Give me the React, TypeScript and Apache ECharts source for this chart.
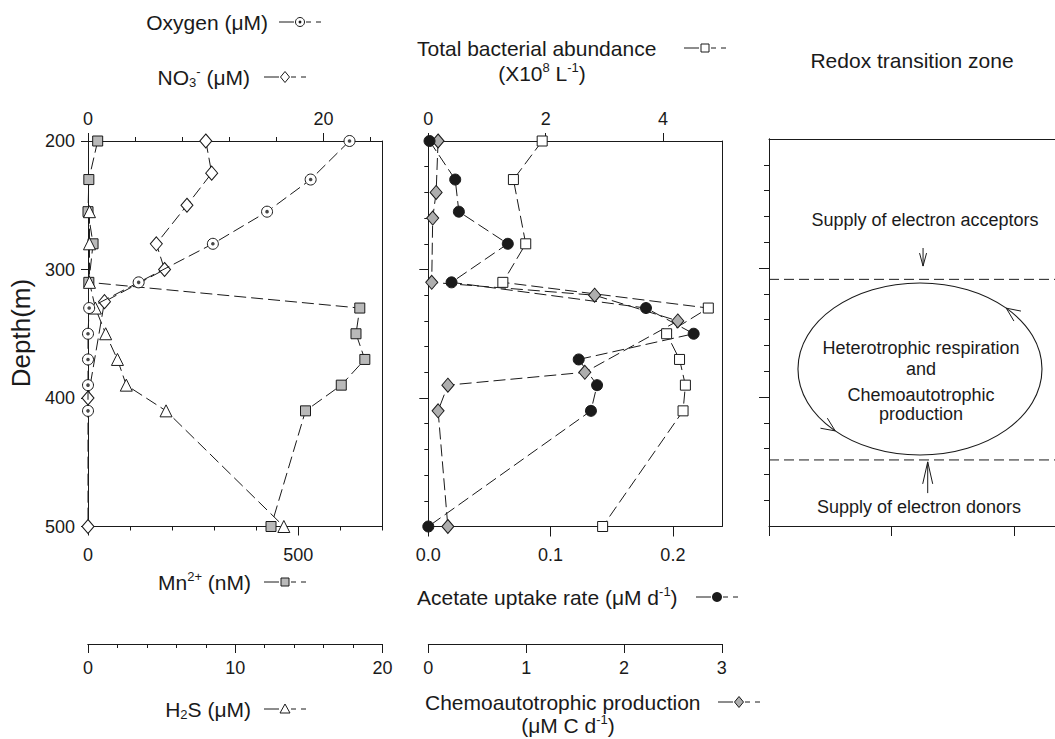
import React, { useEffect, useRef } from 'react';
import * as echarts from 'echarts';

const FONT = '"Liberation Sans", Arial, Helvetica, sans-serif';
const INK = '#1a1a1a';
const GRAY_SQ = '#b9b9b9';
const GRAY_DI = '#aeaeae';
const DASH = [12, 5];

// ---- Panel 1: chemistry (depth in m) ----
const o2Depth = [200, 230, 255, 280, 310, 330, 350, 370, 390, 410];
const o2Values = [22.2, 18.9, 15.2, 10.6, 4.3, 0.1, 0, 0, 0, 0]; // µM
const no3Depth = [200, 225, 250, 280, 300, 325, 400, 500];
const no3Values = [10.0, 10.5, 8.4, 5.8, 6.5, 1.4, 0, 0]; // µM
const mnDepth = [200, 230, 255, 280, 310, 330, 350, 370, 390, 410, 500];
const mnValues = [23, 2, 0, 12, 2, 646, 637, 658, 602, 517, 435]; // nM
const h2sDepth = [255, 280, 310, 330, 350, 370, 390, 410, 500];
const h2sValues = [0.1, 0.1, 0.1, 0.5, 1.2, 2.0, 2.6, 5.3, 13.3]; // µM

// ---- Panel 2: microbiology ----
const bactDepth = [200, 230, 280, 310, 330, 350, 370, 390, 410, 500];
const bactValues = [1.94, 1.45, 1.66, 1.27, 4.77, 4.06, 4.28, 4.38, 4.34, 2.97]; // x10^8 L^-1
const acetDepth = [200, 230, 255, 280, 310, 330, 350, 370, 390, 410, 500];
const acetValues = [0.001, 0.022, 0.025, 0.065, 0.019, 0.178, 0.217, 0.123, 0.138, 0.133, 0.0]; // µM d^-1
const chemoDepth = [200, 240, 260, 310, 320, 340, 380, 390, 410, 500];
const chemoValues = [0.1, 0.08, 0.045, 0.035, 1.7, 2.55, 1.6, 0.2, 0.1, 0.2]; // µM C d^-1

// ---- Panel 3: redox transition zone boundaries (m) ----
const zoneBounds = [308.8, 448.8];

// tick label values
const depthTicks = [200, 300, 400, 500];
const depthMinorTicks = [220, 240, 260, 280, 320, 340, 360, 380, 420, 440, 460, 480];
const oxyMajor = [0, 20];
const oxyMinor = [4, 8, 12, 16, 24];
const mnMajor = [0, 500];
const mnMinor = [100, 200, 300, 400, 600, 700];
const h2sMajor = [0, 10, 20];
const h2sMinor = [2, 4, 6, 8, 12, 14, 16, 18];
const bactTicks = [0, 2, 4];
const acetTicks = [0, 0.1, 0.2];
const chemoTicks = [0, 1, 2, 3];

const pairs = (xs: number[], ds: number[]) => ds.map((d, i) => [xs[i], d]);

function axisBase(extra: any) {
  return {
    type: 'value',
    splitLine: { show: false },
    axisLine: { show: true, onZero: false, lineStyle: { color: INK, width: 1 } },
    axisTick: { show: false },
    axisLabel: { show: false },
    ...extra,
  };
}
function ticks(values: number[], length: number) {
  return { show: true, customValues: values, length, lineStyle: { color: INK, width: 1 } };
}
function labels(values: number[], margin: number, formatter?: (v: number) => string) {
  const o: any = { show: true, customValues: values, margin, color: INK, fontSize: 18, fontFamily: FONT };
  if (formatter) o.formatter = formatter;
  return o;
}

function lineSeries(xi: number, yi: number, data: number[][], symbol: string, size: any, fill: string, z = 3) {
  return {
    type: 'line',
    xAxisIndex: xi,
    yAxisIndex: yi,
    data,
    symbol,
    symbolSize: size,
    showSymbol: true,
    showAllSymbol: true,
    clip: false,
    silent: true,
    animation: false,
    lineStyle: { color: INK, width: 1, type: DASH },
    itemStyle: { color: fill, borderColor: INK, borderWidth: 1 },
    emphasis: { disabled: true },
    z,
  };
}

const grids = [
  { left: 88, top: 141, width: 294.5, height: 385.5, outerBoundsMode: 'none', containLabel: false },
  { left: 428.3, top: 141, width: 293.5, height: 385.5, outerBoundsMode: 'none', containLabel: false },
  { left: 769, top: 139, width: 286, height: 387, outerBoundsMode: 'none', containLabel: false },
];

const xAxes = [
  axisBase({ gridIndex: 0, position: 'top', min: 0, max: 25, axisTick: ticks(oxyMinor, 4) }),
  axisBase({ gridIndex: 0, position: 'top', min: 0, max: 25, axisTick: ticks(oxyMajor, 8), axisLabel: labels(oxyMajor, 13) }),
  axisBase({ gridIndex: 0, position: 'bottom', min: 0, max: 700, axisTick: ticks(mnMinor, 4) }),
  axisBase({ gridIndex: 0, position: 'bottom', min: 0, max: 700, axisTick: ticks(mnMajor, 9), axisLabel: labels(mnMajor, 19) }),
  axisBase({ gridIndex: 0, position: 'bottom', offset: 117.5, min: 0, max: 20, axisTick: ticks(h2sMinor, 4) }),
  axisBase({ gridIndex: 0, position: 'bottom', offset: 117.5, min: 0, max: 20, axisTick: ticks(h2sMajor, 9), axisLabel: labels(h2sMajor, 15) }),
  axisBase({ gridIndex: 1, position: 'top', min: 0, max: 5, axisTick: ticks(bactTicks, 8), axisLabel: labels(bactTicks, 13) }),
  axisBase({ gridIndex: 1, position: 'bottom', min: 0, max: 0.24, axisTick: ticks(acetTicks, 10), axisLabel: labels(acetTicks, 19, (v: number) => v.toFixed(1)) }),
  axisBase({ gridIndex: 1, position: 'bottom', offset: 117.5, min: 0, max: 3, axisTick: ticks(chemoTicks, 9), axisLabel: labels(chemoTicks, 15) }),
  axisBase({ gridIndex: 2, position: 'bottom', min: 0, max: 2.33, axisTick: ticks([0, 1, 2], 10) }),
  axisBase({ gridIndex: 2, position: 'top', min: 0, max: 2.33 }),
];

const yAxes = [
  axisBase({ gridIndex: 0, position: 'left', inverse: true, min: 200, max: 500, axisTick: ticks(depthTicks, 7), axisLabel: labels(depthTicks, 13) }),
  axisBase({ gridIndex: 0, position: 'right', inverse: true, min: 200, max: 500 }),
  axisBase({ gridIndex: 1, position: 'left', inverse: true, min: 200, max: 500, axisTick: ticks(depthMinorTicks, 4) }),
  axisBase({ gridIndex: 1, position: 'left', inverse: true, min: 200, max: 500, axisTick: ticks([300, 400], 9) }),
  axisBase({ gridIndex: 1, position: 'right', inverse: true, min: 200, max: 500 }),
  axisBase({ gridIndex: 2, position: 'left', inverse: true, min: 200, max: 500, axisTick: ticks(depthMinorTicks, 5) }),
  axisBase({ gridIndex: 2, position: 'left', inverse: true, min: 200, max: 500, axisTick: ticks([300, 400], 10) }),
];

const series: any[] = [
  lineSeries(3, 0, pairs(mnValues, mnDepth), 'rect', 10, GRAY_SQ),
  lineSeries(5, 0, pairs(h2sValues, h2sDepth), 'triangle', 12, '#ffffff'),
  lineSeries(0, 0, pairs(no3Values, no3Depth), 'diamond', [12, 14], '#ffffff'),
  lineSeries(0, 0, pairs(o2Values, o2Depth), 'circle', 11, '#ffffff', 4),
  {
    type: 'scatter', xAxisIndex: 0, yAxisIndex: 0, data: pairs(o2Values, o2Depth),
    symbol: 'circle', symbolSize: 3.6, itemStyle: { color: INK }, silent: true, clip: false, z: 5,
  },
  lineSeries(6, 2, pairs(bactValues, bactDepth), 'rect', 10, '#ffffff'),
  lineSeries(8, 2, pairs(chemoValues, chemoDepth), 'diamond', [12, 14], GRAY_DI),
  lineSeries(7, 2, pairs(acetValues, acetDepth), 'circle', 11, INK),
];
const zoneSeriesIndex = series.length;
zoneBounds.forEach((b) => {
  series.push({
    type: 'line', xAxisIndex: 9, yAxisIndex: 5, data: [[0, b], [2.33, b]],
    symbol: 'none', silent: true, clip: false,
    lineStyle: { color: INK, width: 1, type: [10, 5] },
  });
});

// diagram geometry in panel-3 data units (x units, depth m)
const cycle = { x: 1.23, depth: 378.3, rx: 0.994, rDepth: 66.7 };
const acceptorArrow = { x: 1.255, from: 284.5, to: 298.5 };
const donorArrow = { x: 1.293, from: 474.5, to: 450.3 };

const TS = 21;
const richTokens = {
  b: { fontFamily: FONT, fontSize: TS, lineHeight: 24, fill: INK },
  sup: { fontFamily: FONT, fontSize: 13, lineHeight: 12, verticalAlign: 'top', fill: INK },
  sub: { fontFamily: FONT, fontSize: 13, lineHeight: 4, verticalAlign: 'bottom', fill: INK },
};
function txt(text: string, x: number, y: number, align: string, size = TS, rich = false) {
  const style: any = { text, x, y, align, verticalAlign: 'middle', fontSize: size, fontFamily: FONT, fill: INK };
  if (rich) style.rich = richTokens;
  return { type: 'text', silent: true, style };
}

function ln(x1: number, y1: number, x2: number, y2: number) {
  return { type: 'line', silent: true, shape: { x1, y1, x2, y2 }, style: { stroke: INK, lineWidth: 1 } };
}

function marker(kind: string, cx: number, cy: number): any[] {
  const stroke = { stroke: INK, lineWidth: 1 };
  switch (kind) {
    case 'odot':
      return [
        { type: 'circle', silent: true, shape: { cx, cy, r: 4.5 }, style: { fill: '#fff', ...stroke } },
        { type: 'circle', silent: true, shape: { cx, cy, r: 1.4 }, style: { fill: INK } },
      ];
    case 'diamond':
    case 'diamondGray':
      return [{ type: 'polygon', silent: true, shape: { points: [[cx, cy - 5.5], [cx + 4.5, cy], [cx, cy + 5.5], [cx - 4.5, cy]] }, style: { fill: kind === 'diamond' ? '#fff' : GRAY_DI, ...stroke } }];
    case 'rectGray':
    case 'rectWhite':
      return [{ type: 'rect', silent: true, shape: { x: cx - 4, y: cy - 4, width: 8, height: 8 }, style: { fill: kind === 'rectGray' ? GRAY_SQ : '#fff', ...stroke } }];
    case 'triangle':
      return [{ type: 'polygon', silent: true, shape: { points: [[cx, cy - 5], [cx + 5, cy + 4], [cx - 5, cy + 4]] }, style: { fill: '#fff', ...stroke } }];
    default:
      return [{ type: 'circle', silent: true, shape: { cx, cy, r: 5 }, style: { fill: INK } }];
  }
}

function legendSym(kind: string, x0: number, y: number): any[] {
  return [
    ln(x0, y, x0 + 15, y),
    ln(x0 + 27, y, x0 + 32, y),
    ln(x0 + 37, y, x0 + 42, y),
    ...marker(kind, x0 + 21, y),
  ];
}

function ellipseArrow(cx: number, cy: number, rx: number, ry: number, tDeg: number) {
  const t = (tDeg * Math.PI) / 180;
  const px = cx + rx * Math.cos(t);
  const py = cy - ry * Math.sin(t);
  let dx = -rx * Math.sin(t);
  let dy = -ry * Math.cos(t);
  const n = Math.hypot(dx, dy);
  dx /= n; dy /= n;
  const bx = -dx, by = -dy;
  const a = (24 * Math.PI) / 180;
  const L = 15;
  const rot = (ang: number) => [bx * Math.cos(ang) - by * Math.sin(ang), bx * Math.sin(ang) + by * Math.cos(ang)];
  const r1 = rot(a), r2 = rot(-a);
  return {
    type: 'polyline', silent: true,
    shape: { points: [[px + r1[0] * L, py + r1[1] * L], [px, py], [px + r2[0] * L, py + r2[1] * L]] },
    style: { stroke: INK, lineWidth: 1, fill: 'none' },
  };
}

function straightArrow(x: number, yFrom: number, yTo: number, armW: number, armL: number) {
  const dir = yTo > yFrom ? 1 : -1;
  return [
    ln(x, yFrom, x, yTo),
    {
      type: 'polyline', silent: true,
      shape: { points: [[x - armW, yTo - dir * armL], [x, yTo], [x + armW, yTo - dir * armL]] },
      style: { stroke: INK, lineWidth: 1, fill: 'none' },
    },
  ];
}

const option: any = {
  animation: false,
  backgroundColor: '#ffffff',
  textStyle: { fontFamily: FONT, color: INK },
  grid: grids,
  xAxis: xAxes,
  yAxis: yAxes,
  series,
};

export default function App() {
  const ref = useRef<HTMLDivElement>(null);
  useEffect(() => {
    const el = ref.current!;
    const chart = echarts.init(el, null, { renderer: 'svg' });
    chart.setOption(option);

    const toPx = (x: number, d: number) => chart.convertToPixel({ seriesIndex: zoneSeriesIndex }, [x, d]) as number[];
    const c = toPx(cycle.x, cycle.depth);
    const rx = toPx(cycle.x + cycle.rx, cycle.depth)[0] - c[0];
    const ry = toPx(cycle.x, cycle.depth + cycle.rDepth)[1] - c[1];
    const aFrom = toPx(acceptorArrow.x, acceptorArrow.from);
    const aTo = toPx(acceptorArrow.x, acceptorArrow.to);
    const dFrom = toPx(donorArrow.x, donorArrow.from);
    const dTo = toPx(donorArrow.x, donorArrow.to);

    const depthLabel = {
      type: 'text', silent: true, x: 21, y: 333, rotation: Math.PI / 2,
      style: { text: 'Depth(m)', x: 0, y: 0, align: 'center', verticalAlign: 'middle', fontSize: 26, fontFamily: FONT, fill: INK },
    };

    const g: any[] = [
      txt('Oxygen (μM)', 268, 22, 'right'),
      ...legendSym('odot', 279, 22),
      txt('{b|NO}{sub|3}{sup|-}{b| (μM)}', 250, 77, 'right', TS, true),
      ...legendSym('diamond', 264, 77),
      txt('Total bacterial abundance', 417, 48, 'left'),
      ...legendSym('rectWhite', 684, 48),
      txt('{b|(X10}{sup|8}{b| L}{sup|-1}{b|)}', 542, 73, 'center', TS, true),
      txt('Redox transition zone', 912, 60, 'center'),
      txt('{b|Mn}{sup|2+}{b| (nM)}', 251, 582, 'right', TS, true),
      ...legendSym('rectGray', 264, 582),
      txt('{b|Acetate uptake rate (μM d}{sup|-1}{b|)}', 417, 597, 'left', TS, true),
      ...legendSym('dot', 696, 597),
      txt('{b|H}{sub|2}{b|S (μM)}', 251, 709, 'right', TS, true),
      ...legendSym('triangle', 264, 709),
      txt('Chemoautotrophic production', 425, 702, 'left'),
      ...legendSym('diamondGray', 718, 702),
      txt('{b|(μM C d}{sup|-1}{b|)}', 568, 725, 'center', TS, true),
      depthLabel,
      {
        type: 'ellipse', silent: true,
        shape: { cx: c[0], cy: c[1], rx, ry },
        style: { fill: 'none', stroke: INK, lineWidth: 1.1 },
      },
      ellipseArrow(c[0], c[1], rx, ry, 45),
      ellipseArrow(c[0], c[1], rx, ry, 226),
      ...straightArrow(aFrom[0], aFrom[1], aTo[1], 3.5, 13),
      ...straightArrow(dFrom[0], dFrom[1], dTo[1], 5, 22),
      txt('Supply of electron acceptors', 925, 220, 'center', 18),
      txt('Heterotrophic respiration', 921, 348, 'center', 18),
      txt('and', 921, 369, 'center', 18),
      txt('Chemoautotrophic', 921, 395, 'center', 18),
      txt('production', 921, 414, 'center', 18),
      txt('Supply of electron donors', 919, 507, 'center', 18),
    ];
    chart.setOption({ graphic: { elements: g } });
    return () => chart.dispose();
  }, []);
  return <div ref={ref} style={{ position: 'absolute', left: 0, top: 0, width: 1055, height: 739 }} />;
}
